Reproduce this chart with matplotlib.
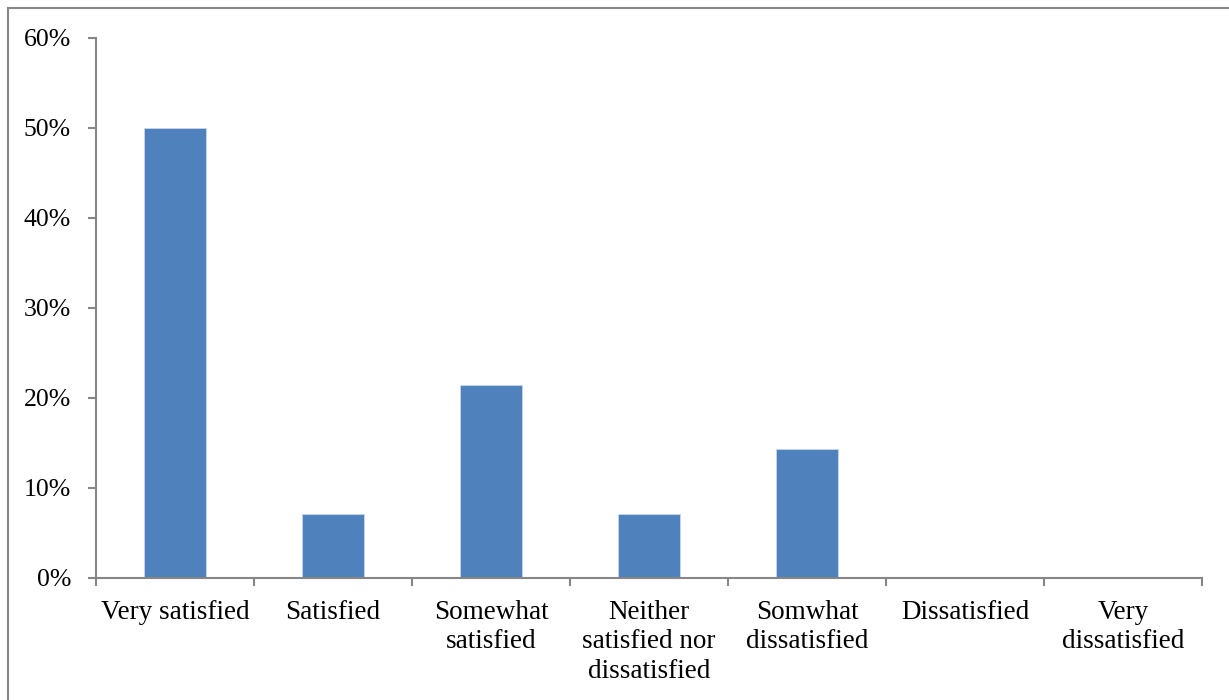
import matplotlib.pyplot as plt
from matplotlib.patches import Rectangle
from matplotlib.ticker import PercentFormatter

# Survey answers (share of respondents)
categories = ['Very satisfied', 'Satisfied', 'Somewhat\nsatisfied',
              'Neither\nsatisfied nor\ndissatisfied', 'Somwhat\ndissatisfied',
              'Dissatisfied', 'Very\ndissatisfied']
shares = [0.50, 0.0714, 0.2143, 0.0714, 0.1429, 0.0, 0.0]
y_ticks = [0.0, 0.1, 0.2, 0.3, 0.4, 0.5, 0.6]

plt.rcParams['font.family'] = ['Liberation Serif', 'DejaVu Serif']

fig = plt.figure(figsize=(12.29, 7), dpi=100)
W, H = 1229, 700
ax = fig.add_axes([96 / W, 1 - 578 / H, (1202 - 96) / W, (578 - 38) / H])

# outer chart frame (runs off the right and bottom of the picture)
fig.patches.append(Rectangle((8 / W, -0.1), 1.2, 1 - 8 / H + 0.1,
                             transform=fig.transFigure, fill=False,
                             edgecolor='#868686', linewidth=1.5))

x = range(len(categories))
ax.bar(x, shares, width=0.39, color='#4F81BD', edgecolor='#C9D6EA', linewidth=0.6)

ax.set_xlim(-0.5, len(categories) - 0.5)
ax.set_ylim(0, 0.6)
ax.set_yticks(y_ticks)
ax.yaxis.set_major_formatter(PercentFormatter(1.0, decimals=0))

ax.set_xticks(x)
ax.set_xticklabels(categories, linespacing=1.22)
ax.set_xticks([i - 0.5 for i in range(len(categories) + 1)], minor=True)
ax.tick_params(axis='x', which='major', length=0, pad=16, labelsize=19.5)
ax.tick_params(axis='x', which='minor', length=6, width=1.5, color='#868686')
ax.tick_params(axis='y', length=6, width=1.5, color='#868686', pad=12, labelsize=18.5)

for side in ['top', 'right']:
    ax.spines[side].set_visible(False)
for side in ['left', 'bottom']:
    ax.spines[side].set_color('#868686')
    ax.spines[side].set_linewidth(1.5)

fig.savefig('out.png', dpi=100)
